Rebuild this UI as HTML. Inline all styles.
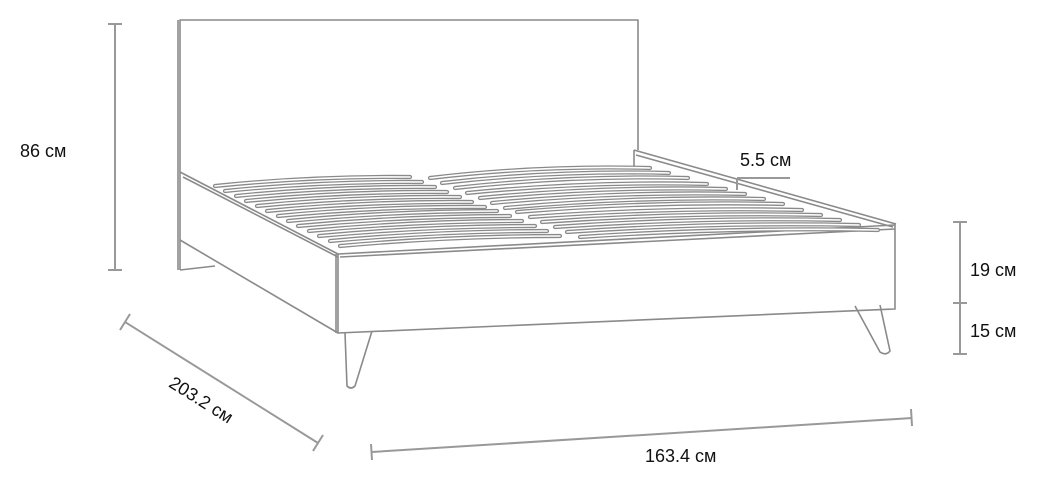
<!DOCTYPE html>
<html><head><meta charset="utf-8"><style>
html,body{margin:0;padding:0;background:#fff;}
svg{display:block;}
text{font-family:"Liberation Sans",sans-serif;font-size:18px;fill:#111;}
</style></head><body>
<svg width="1046" height="488" viewBox="0 0 1046 488" xmlns="http://www.w3.org/2000/svg">
<g fill="none" stroke="#8a8a8a" stroke-width="1.6" stroke-linejoin="round">
<!-- headboard -->
<path d="M180 270 L180 20 L638 20 L638 150"/>
<path d="M178 270 L178 20"/>
<path d="M180 270 L215 266"/>
<!-- right rail -->
<path d="M634 150 L634 168"/>
<path d="M634 150 L896 224"/>
<path d="M636 155 L893 227"/>
<!-- left rail -->
<path d="M180 172 L338 254"/>
<path d="M183 177 L338 257"/>
<path d="M180 240 L338 333"/>
<!-- front rail -->
<path d="M338 254 L338 333 L895 309 L895 225 L338 254"/>
<path d="M340 257 L895 229"/>
<path d="M336 254 L336 333"/>
<!-- legs -->
<path d="M345 333 L347 386 Q351 390 355 386 L372 331"/>
<path d="M855 306 L880 352 Q886 356 890 351 L880 305"/>
</g>
<!-- slats -->
<g fill="none" stroke-linecap="round">
<g stroke="#8a8a8a" stroke-width="4.2">
<path d="M215 186 Q312 176 410 177"/><path d="M225 191 Q323 181 422 182"/><path d="M236 196 Q335 186 435 187"/><path d="M246 201 Q346 191 447 192"/><path d="M257 206 Q358 196 460 197"/><path d="M267 211 Q369 201 472 202"/><path d="M278 216 Q381 206 485 207"/><path d="M288 221 Q392 211 497 211"/><path d="M298 226 Q404 216 510 216"/><path d="M309 231 Q415 221 522 221"/><path d="M319 236 Q427 226 535 226"/><path d="M330 241 Q438 231 547 231"/><path d="M340 246 Q450 236 560 236"/>
<path d="M430 178 Q540 165 650 168"/><path d="M442 183 Q555 170 669 173"/><path d="M455 188 Q571 175 688 178"/><path d="M467 193 Q587 181 707 184"/><path d="M480 198 Q603 186 726 189"/><path d="M492 203 Q618 191 745 194"/><path d="M505 208 Q634 196 764 199"/><path d="M517 212 Q650 201 783 204"/><path d="M530 217 Q666 207 802 210"/><path d="M542 222 Q681 212 821 215"/><path d="M555 227 Q697 217 840 220"/><path d="M567 232 Q713 222 859 225"/><path d="M580 237 Q729 227 878 230"/>
</g>
<g stroke="#fff" stroke-width="1.6">
<path d="M215 186 Q312 176 410 177"/><path d="M225 191 Q323 181 422 182"/><path d="M236 196 Q335 186 435 187"/><path d="M246 201 Q346 191 447 192"/><path d="M257 206 Q358 196 460 197"/><path d="M267 211 Q369 201 472 202"/><path d="M278 216 Q381 206 485 207"/><path d="M288 221 Q392 211 497 211"/><path d="M298 226 Q404 216 510 216"/><path d="M309 231 Q415 221 522 221"/><path d="M319 236 Q427 226 535 226"/><path d="M330 241 Q438 231 547 231"/><path d="M340 246 Q450 236 560 236"/>
<path d="M430 178 Q540 165 650 168"/><path d="M442 183 Q555 170 669 173"/><path d="M455 188 Q571 175 688 178"/><path d="M467 193 Q587 181 707 184"/><path d="M480 198 Q603 186 726 189"/><path d="M492 203 Q618 191 745 194"/><path d="M505 208 Q634 196 764 199"/><path d="M517 212 Q650 201 783 204"/><path d="M530 217 Q666 207 802 210"/><path d="M542 222 Q681 212 821 215"/><path d="M555 227 Q697 217 840 220"/><path d="M567 232 Q713 222 859 225"/><path d="M580 237 Q729 227 878 230"/>
</g>
</g>
<!-- dimensions -->
<g stroke="#999" stroke-width="2" fill="none">
<path d="M115 24 L115 270 M108 24 L122 24 M108 270 L122 270"/>
<path d="M960 222 L960 354 M953 222 L967 222 M953 303 L967 303 M953 354 L967 354"/>
<path d="M125 322 L318 443 M120 330 L130 314 M313 451 L323 435"/>
<path d="M372 452 L912 418 M371 444 L372 460 M911 409 L912 426"/>
<path d="M737 178 L790 178 M737 178 L737 190"/>
</g>
<text x="20" y="157">86 см</text>
<text x="740" y="166">5.5 см</text>
<text x="970" y="276">19 см</text>
<text x="970" y="337">15 см</text>
<text x="645" y="462">163.4 см</text>
<text x="0" y="0" transform="translate(198 405) rotate(32)" text-anchor="middle">203.2 см</text>
</svg>
</body></html>
